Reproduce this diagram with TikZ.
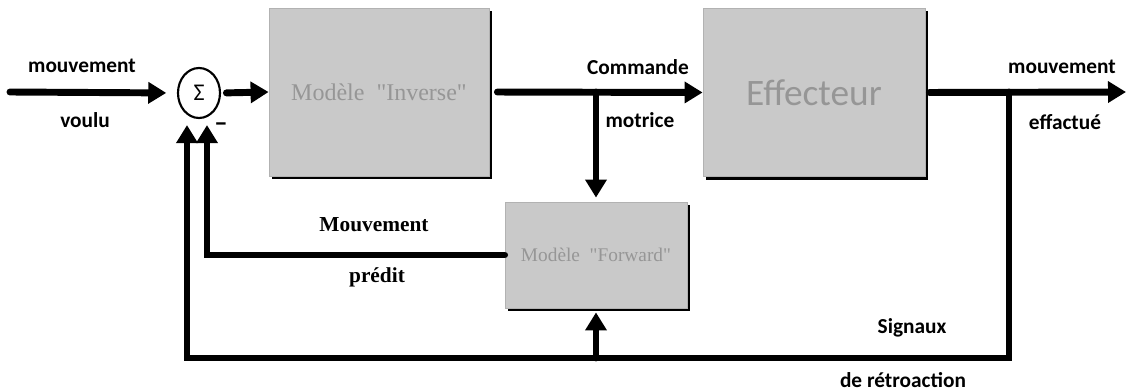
\documentclass[tikz,border=0pt]{standalone}
\usepackage{fontspec}
\setmainfont{Liberation Serif}
\newfontfamily\lblfont{Carlito}
\newfontfamily\boxfont{Liberation Serif}
\usetikzlibrary{arrows.meta,shapes.geometric,shadows}
\definecolor{boxgray}{RGB}{201,201,201}
\definecolor{boxtext}{RGB}{150,150,150}

\begin{document}
\begin{tikzpicture}[x=0.75pt,y=-0.75pt,
  wire/.style={line width=5.2pt,line cap=round},
  arr/.style={wire,-{Triangle[length=13.5pt,width=15.5pt]}},
  block/.style={draw=gray!60,fill=boxgray,line width=0.6pt,inner sep=0pt,
    drop shadow={shadow xshift=2.2pt,shadow yshift=-2.2pt,fill=black,opacity=1}},
  lbl/.style={font=\lblfont\bfseries\fontsize{16}{18}\selectfont,inner sep=0pt},
  slbl/.style={font=\bfseries\fontsize{16}{18}\selectfont,inner sep=0pt}
]
\useasboundingbox (0,0) rectangle (1128,392);

% blocks
\node[block,minimum width=165pt,minimum height=126pt,
  font=\boxfont\fontsize{18}{20}\selectfont,text=boxtext] (inv) at (379,92) {Modèle~~"Inverse"};
\node[block,minimum width=166.5pt,minimum height=126.5pt,
  font=\lblfont\fontsize{28}{30}\selectfont,text=boxtext] (eff) at (814,92.5) {Effecteur};
\node[block,minimum width=136.5pt,minimum height=79.5pt,
  font=\boxfont\fontsize{14.5}{16}\selectfont,text=boxtext] (fwd) at (596,255) {Modèle~~"Forward"};

% summing junction
\node[ellipse,draw,line width=1.6pt,minimum width=31.5pt,minimum height=37.5pt,
  inner sep=0pt,font=\lblfont\fontsize{18}{18}\selectfont] (sum) at (199,93) {Σ};
\node[font=\lblfont\bfseries\fontsize{20}{20}\selectfont,inner sep=0pt] (minus) at (221,127) {–};

% branch points and corners
\coordinate (in) at (10,92);
\coordinate (out) at (1126,92);
\coordinate (cmd) at (596,92);
\coordinate (fb) at (1009,92);
\coordinate (fbdown) at (1009,358);
\coordinate (fbleft) at (187,358);
\coordinate (tap) at (596,358);
\coordinate (pred) at (207,255);

% forward path
\draw[arr,shorten >=8pt] (in) -- (sum.west);
\draw[arr,shorten <=4pt] (sum.east) -- (inv.west);
\draw[arr,shorten <=6pt] (inv.east) -- (eff.west);
\draw[arr,shorten >=3pt] (cmd) -- (fwd.north);
\draw[arr,shorten <=3pt] (eff.east) -- (out);

% feedback paths
\draw[arr,shorten >=4.5pt] (fb) -- (fbdown) -- (fbleft) -- (fbleft |- sum.south);
\draw[arr,shorten >=3pt] (tap) -- (fwd.south);
\draw[arr,shorten >=4.5pt] (fwd.west) -- (pred) -- (pred |- sum.south);

% labels
\node[lbl] (l1) at (82,66) {mouvement};
\node[lbl] (l2) at (85,120) {voulu};
\node[lbl] (l3) at (638,67) {Commande};
\node[lbl] (l4) at (640,120) {motrice};
\node[lbl] (l5) at (1062,67) {mouvement};
\node[lbl] (l6) at (1065,122) {effactué};
\node[lbl] (l7) at (912,328) {Signaux};
\node[lbl] (l8) at (903,380) {de rétroaction};
\node[slbl] (l9) at (374,225) {Mouvement};
\node[slbl] (l10) at (377,277) {prédit};
\end{tikzpicture}
\end{document}
